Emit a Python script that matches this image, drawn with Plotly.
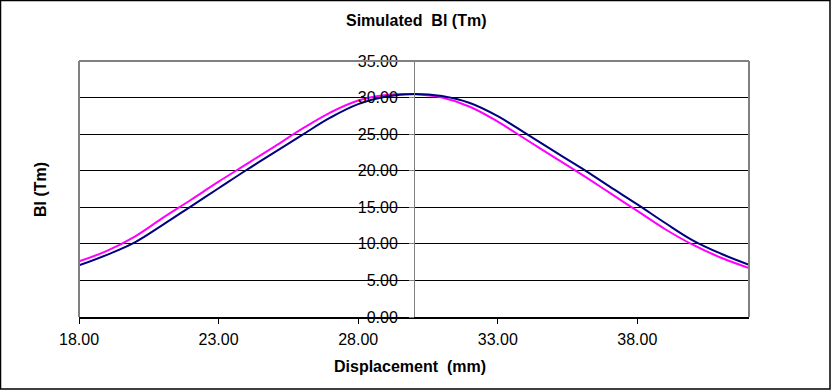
import plotly.graph_objects as go

displacement = [18, 19, 20, 21, 22, 23, 24, 25, 26, 27, 28, 29, 30,
                31, 32, 33, 34, 35, 36, 37, 38, 39, 40, 41, 42]
bl_blue = [7.05, 8.5, 10.2, 12.6, 15.1, 17.6, 20.1, 22.5, 24.9, 27.25, 29.1, 30.15, 30.5,
           30.2, 29.25, 27.45, 25.1, 22.7, 20.35, 17.85, 15.4, 12.85, 10.45, 8.65, 7.15]
bl_magenta = [7.6, 9.05, 11.0, 13.55, 16.0, 18.5, 20.9, 23.3, 25.75, 27.95, 29.6, 30.35, 30.45,
              30.0, 28.75, 26.7, 24.3, 21.9, 19.5, 17.0, 14.5, 12.0, 9.85, 8.1, 6.7]

title_text = "Simulated \u00a0Bl (Tm)"
x_title = "Displacement \u00a0(mm)"
y_title = "Bl (Tm)"

W, H = 831, 391
L, R, T, B = 79, 82, 61, 74
PW, PH = W - L - R, H - T - B
FONT = "Liberation Sans, Arial, sans-serif"

def px(xp):
    return (xp - L) / PW

def py(yp):
    return (H - B - yp) / PH

fig = go.Figure()
fig.add_trace(go.Scatter(x=displacement, y=bl_magenta, mode="lines",
                         line=dict(color="#FF00FF", width=2, shape="spline", smoothing=1.1),
                         showlegend=False, hoverinfo="skip"))
fig.add_trace(go.Scatter(x=displacement, y=bl_blue, mode="lines",
                         line=dict(color="#000080", width=2, shape="spline", smoothing=1.1),
                         showlegend=False, hoverinfo="skip"))

fig.update_layout(
    width=W, height=H,
    margin=dict(l=L, r=R, t=T, b=B),
    paper_bgcolor="white", plot_bgcolor="white",
    font=dict(family=FONT, size=16, color="black"),
    xaxis=dict(range=[18, 42], tick0=18, dtick=5, tickformat=".2f",
               showgrid=False, zeroline=False, showline=True,
               linecolor="black", linewidth=1.5,
               ticks="outside", ticklen=5, tickcolor="black", tickwidth=1,
               ticklabelstandoff=2,
               tickfont=dict(family=FONT, size=16, color="black")),
    yaxis=dict(range=[0, 35], dtick=5, tickformat=".2f",
               anchor="free", position=0.5,
               showgrid=True, gridcolor="black", gridwidth=1,
               zeroline=False, showline=True, linecolor="#808080", linewidth=1,
               ticks="outside", ticklen=5, tickcolor="#808080",
               ticklabelstandoff=8,
               tickfont=dict(family=FONT, size=16, color="black")),
)

gray = dict(color="#808080", width=2)
fig.add_shape(type="line", xref="x domain", yref="y domain", x0=0, x1=0, y0=0, y1=1, line=gray)
fig.add_shape(type="line", xref="x domain", yref="y domain", x0=0, x1=1, y0=1, y1=1, line=gray)
fig.add_shape(type="line", xref="x domain", yref="y domain", x0=1, x1=1, y0=0, y1=1, line=gray)

fig.add_shape(type="rect", xref="paper", yref="paper",
              x0=px(0.5), x1=px(830), y0=py(389), y1=py(0.5),
              line=dict(color="black", width=1.5))

fig.add_annotation(text="<b>" + title_text + "</b>", xref="paper", yref="paper",
                   x=px(415.5), y=py(20), xanchor="center", yanchor="middle",
                   showarrow=False, font=dict(family=FONT, size=16, color="black"))
fig.add_annotation(text="<b>" + x_title + "</b>", xref="paper", yref="paper",
                   x=px(410), y=py(366), xanchor="center", yanchor="middle",
                   showarrow=False, font=dict(family=FONT, size=16, color="black"))
fig.add_annotation(text="<b>" + y_title + "</b>", xref="paper", yref="paper",
                   x=px(40), y=py(190), xanchor="center", yanchor="middle",
                   textangle=-90, showarrow=False,
                   font=dict(family=FONT, size=16, color="black"))

fig.write_html("out.html", config={"displayModeBar": False},
               post_script="document.body.style.margin='0';document.body.style.overflow='hidden';")
